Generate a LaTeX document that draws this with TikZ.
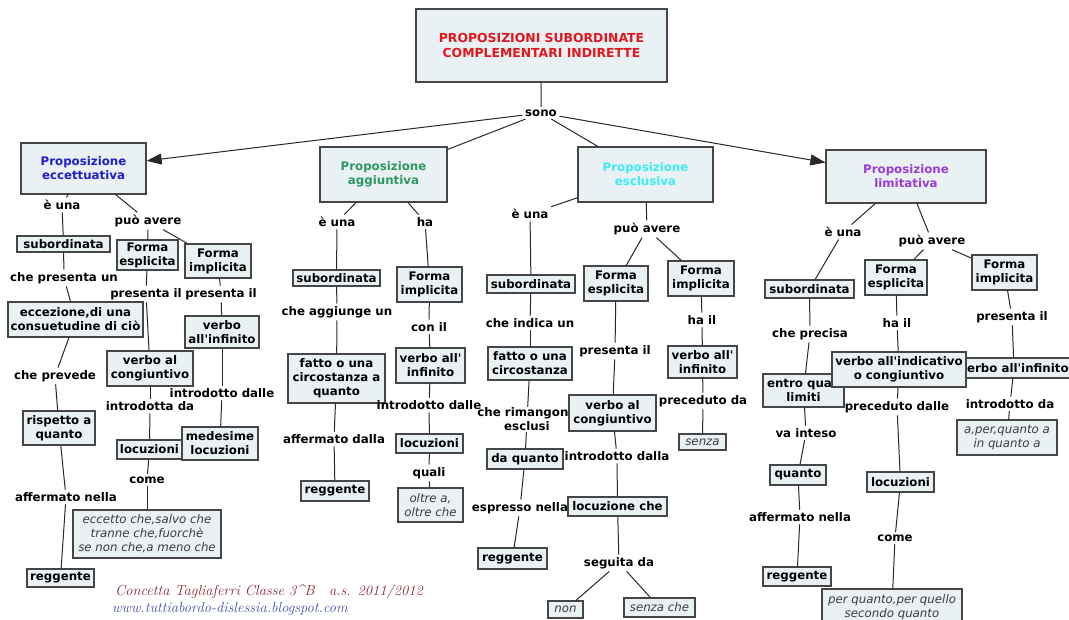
\documentclass[tikz,border=0pt]{standalone}
\usepackage{fontspec}
\newfontfamily\dvs{DejaVu Sans}
\usetikzlibrary{arrows.meta}
\definecolor{boxfill}{RGB}{234,241,244}
\definecolor{boxline}{RGB}{70,70,70}
\definecolor{linecol}{RGB}{40,40,40}
\definecolor{itgray}{RGB}{60,60,60}
\definecolor{tred}{RGB}{228,22,28}
\definecolor{tblue}{RGB}{30,30,205}
\definecolor{tgreen}{RGB}{46,150,96}
\definecolor{tcyan}{RGB}{60,236,245}
\definecolor{tpurple}{RGB}{155,60,214}
\definecolor{footred}{RGB}{140,40,55}
\definecolor{footblue}{RGB}{70,80,175}
\tikzset{
  box/.style={draw=boxline, fill=boxfill, line width=1.3pt, inner sep=1pt, align=center,
    font=\dvs\bfseries\fontsize{11.8}{14}\selectfont},
  ital/.style={font=\dvs\itshape\fontsize{11.8}{14}\selectfont, text=itgray},
  lbl/.style={inner sep=2.5pt, align=center, font=\dvs\bfseries\fontsize{11.8}{14}\selectfont},
  conn/.style={draw=linecol, line width=1pt},
  arr/.style={conn, -{Triangle[length=15pt,width=11pt]}},
  foot/.style={anchor=west, inner sep=0pt, font=\rmfamily\itshape\fontsize{14.5}{16}\selectfont}
}
\newcommand\cmbox[7][]{\node[box,#1,minimum width={#5-#3},minimum height={#6-#4}] (#2) at ({(#3+#5)/2},{(#4+#6)/2}) {#7};}
\begin{document}
\begin{tikzpicture}[x=1pt,y=-1pt]
\useasboundingbox (0,0) rectangle (1069,620);
\fill[white] (0,0) rectangle (1069,620);
\clip (0,0) rectangle (1069,620);

% ---- title
\cmbox[text=tred,font=\dvs\bfseries\fontsize{12.4}{14.5}\selectfont]{title}{416}{9}{667}{82}{PROPOSIZIONI SUBORDINATE\\COMPLEMENTARI INDIRETTE}
\node[lbl] (sono) at (541,113) {sono};

% ---- eccettuativa
\cmbox[text=tblue]{ecc}{21}{143}{146}{194}{Proposizione\\eccettuativa}
\node[lbl] (e1) at (62,205) {è una};
\cmbox{eccsub}{17}{236}{110}{252}{subordinata}
\node[lbl] (e2) at (64,278) {che presenta un};
\cmbox{eccecc}{8}{302}{143}{337}{eccezione,di una\\consuetudine di ciò}
\node[lbl] (e3) at (55,376) {che prevede};
\cmbox{eccrisp}{23}{411}{95}{445}{rispetto a\\quanto}
\node[lbl] (e4) at (66,497) {affermato nella};
\cmbox{eccreg}{27}{569}{94}{587}{reggente}
\node[lbl] (e5) at (148,221) {può avere};
\cmbox{eccfe}{117}{240}{178}{270}{Forma\\esplicita}
\cmbox{eccfi}{185}{244}{251}{278}{Forma\\implicita}
\node[lbl] (e6) at (146,294) {presenta il};
\node[lbl] (e7) at (221,294) {presenta il};
\cmbox{eccvc}{107}{351}{193}{386}{verbo al\\congiuntivo}
\cmbox{eccvi}{185}{316}{259}{348}{verbo\\all'infinito}
\node[lbl] (e8) at (150,406) {introdotta da};
\node[lbl] (e9) at (222,393) {introdotto dalle};
\cmbox{eccloc}{117}{440}{182}{459}{locuzioni}
\cmbox{eccmed}{182}{427}{258}{460}{medesime\\locuzioni}
\node[lbl] (e10) at (147,480) {come};
\cmbox[ital]{eccex}{73}{510}{221}{558}{eccetto che,salvo che\\tranne che,fuorchè\\se non che,a meno che}

% ---- aggiuntiva
\cmbox[text=tgreen]{agg}{320}{147}{447}{202}{Proposizione\\aggiuntiva}
\node[lbl] (a1) at (337,222) {è una};
\cmbox{aggsub}{293}{270}{380}{286}{subordinata}
\node[lbl] (a2) at (337,312) {che aggiunge un};
\cmbox{aggfatto}{288}{354}{385}{403}{fatto o una\\circostanza a\\quanto}
\node[lbl] (a3) at (334,439) {affermato dalla};
\cmbox{aggreg}{301}{481}{369}{501}{reggente}
\node[lbl] (a4) at (425,222) {ha};
\cmbox{aggfi}{397}{267}{462}{302}{Forma\\implicita}
\node[lbl] (a5) at (429,327) {con il};
\cmbox{aggvi}{396}{348}{465}{383}{verbo all'\\infinito}
\node[lbl] (a6) at (429,405) {introdotto dalle};
\cmbox{aggloc}{396}{434}{463}{453}{locuzioni}
\node[lbl] (a7) at (429,473) {quali};
\cmbox[ital]{aggoltre}{398}{488}{463}{522}{oltre a,\\oltre che}

% ---- esclusiva
\cmbox[text=tcyan]{esc}{578}{147}{713}{202}{Proposizione\\esclusiva}
\node[lbl] (s1) at (530,214) {è una};
\cmbox{escsub}{487}{275}{575}{293}{subordinata}
\node[lbl] (s2) at (530,323) {che indica un};
\cmbox{escfatto}{488}{347}{572}{380}{fatto o una\\circostanza}
\node[lbl,inner sep=1pt] (s3) at (527,419.5) {che rimangono\\esclusi};
\cmbox{escdaq}{487}{449}{563}{469}{da quanto}
\node[lbl] (s4) at (520,508) {espresso nella};
\cmbox{escreg}{478}{548}{547}{569}{reggente}
\node[lbl] (s5) at (647,229) {può avere};
\cmbox{escfe}{584}{266}{648}{301}{Forma\\esplicita}
\cmbox{escfi}{668}{261}{734}{296}{Forma\\implicita}
\node[lbl] (s6) at (615,351) {presenta il};
\cmbox{escvc}{569}{395}{656}{431}{verbo al\\congiuntivo}
\node[lbl] (s7) at (617,456) {introdotto dalla};
\cmbox{esclc}{568}{497}{667}{516}{locuzione che}
\node[lbl] (s8) at (619,563) {seguita da};
\cmbox[ital]{escnon}{548}{601}{583}{618}{non}
\cmbox[ital]{escsc}{624}{598}{695}{617}{senza che}
\node[lbl] (s9) at (702,320) {ha il};
\cmbox{escvi}{668}{346}{737}{378}{verbo all'\\infinito}
\node[lbl] (s10) at (703,401) {preceduto da};
\cmbox[ital]{escsenza}{679}{434}{726}{450}{senza}

% ---- limitativa
\cmbox[text=tpurple]{lim}{826}{150}{986}{203}{Proposizione\\limitativa}
\node[lbl] (m1) at (843,232) {è una};
\cmbox{limsub}{765}{280}{854}{298}{subordinata}
\node[lbl] (m2) at (810,334) {che precisa};
\cmbox{limentro}{763}{374}{844}{407}{entro quali\\limiti}
\node[lbl] (m3) at (806,433) {va inteso};
\cmbox{limq}{770}{465}{826}{485}{quanto}
\node[lbl] (m4) at (800,517) {affermato nella};
\cmbox{limreg}{763}{567}{831}{586}{reggente}
\node[lbl] (m5) at (932,241) {può avere};
\cmbox{limfe}{865}{260}{927}{295}{Forma\\esplicita}
\cmbox{limfi}{972}{255}{1037}{290}{Forma\\implicita}
\node[lbl] (m6) at (897,323) {ha il};
\node[lbl] (m9) at (1012,317) {presenta il};
\cmbox{limvi}{962}{358}{1066}{378}{verbo all'infinito}
\cmbox{limvind}{832}{352}{966}{387}{verbo all'indicativo\\o congiuntivo}
\node[lbl] (m7) at (897,407) {preceduto dalle};
\node[lbl] (m10) at (1010,404) {introdotto da};
\cmbox[ital]{limaper}{957}{420}{1057}{455}{a,per,quanto a\\in quanto a}
\cmbox{limloc}{867}{472}{934}{492}{locuzioni}
\node[lbl] (m8) at (895,538) {come};
\cmbox[ital]{limper}{822}{589}{962}{625}{per quanto,per quello\\secondo quanto}

% ---- footer
\node[foot, text=footred] (f1) at (115,592) {Concetta Tagliaferri Classe 3\textasciicircum B\quad a.s. 2011/2012};
\node[foot, text=footblue] (f2) at (112,609) {www.tuttiabordo-dislessia.blogspot.com};

% ---- connectors
\draw[conn] (title) -- (sono);
\draw[arr] (sono) -- (ecc);
\draw[conn] (sono) -- (agg);
\draw[conn] (sono) -- (esc);
\draw[arr] (sono) -- (lim);

\draw[conn] (ecc) -- (e1);
\draw[conn] (e1) -- (eccsub);
\draw[conn] (eccsub) -- (e2);
\draw[conn] (e2) -- (eccecc);
\draw[conn] (eccecc) -- (e3);
\draw[conn] (e3) -- (eccrisp);
\draw[conn] (eccrisp) -- (e4);
\draw[conn] (e4) -- (eccreg);
\draw[conn] (ecc) -- (e5);
\draw[conn] (e5) -- (eccfe);
\draw[conn] (e5) -- (eccfi);
\draw[conn] (eccfe) -- (e6);
\draw[conn] (e6) -- (eccvc);
\draw[conn] (eccfi) -- (e7);
\draw[conn] (e7) -- (eccvi);
\draw[conn] (eccvc) -- (e8);
\draw[conn] (e8) -- (eccloc);
\draw[conn] (eccvi) -- (e9);
\draw[conn] (e9) -- (eccmed);
\draw[conn] (eccloc) -- (e10);
\draw[conn] (e10) -- (eccex);

\draw[conn] (agg) -- (a1);
\draw[conn] (a1) -- (aggsub);
\draw[conn] (aggsub) -- (a2);
\draw[conn] (a2) -- (aggfatto);
\draw[conn] (aggfatto) -- (a3);
\draw[conn] (a3) -- (aggreg);
\draw[conn] (agg) -- (a4);
\draw[conn] (a4) -- (aggfi);
\draw[conn] (aggfi) -- (a5);
\draw[conn] (a5) -- (aggvi);
\draw[conn] (aggvi) -- (a6);
\draw[conn] (a6) -- (aggloc);
\draw[conn] (aggloc) -- (a7);
\draw[conn] (a7) -- (aggoltre);

\draw[conn] (esc) -- (s1);
\draw[conn] (s1) -- (escsub);
\draw[conn] (escsub) -- (s2);
\draw[conn] (s2) -- (escfatto);
\draw[conn] (escfatto) -- (s3);
\draw[conn] (s3) -- (escdaq);
\draw[conn] (escdaq) -- (s4);
\draw[conn] (s4) -- (escreg);
\draw[conn] (esc) -- (s5);
\draw[conn] (s5) -- (escfe);
\draw[conn] (s5) -- (escfi);
\draw[conn] (escfe) -- (s6);
\draw[conn] (s6) -- (escvc);
\draw[conn] (escvc) -- (s7);
\draw[conn] (s7) -- (esclc);
\draw[conn] (esclc) -- (s8);
\draw[conn] (s8) -- (escnon);
\draw[conn] (s8) -- (escsc);
\draw[conn] (escfi) -- (s9);
\draw[conn] (s9) -- (escvi);
\draw[conn] (escvi) -- (s10);
\draw[conn] (s10) -- (escsenza);

\draw[conn] (lim) -- (m1);
\draw[conn] (m1) -- (limsub);
\draw[conn] (limsub) -- (m2);
\draw[conn] (m2) -- (limentro);
\draw[conn] (limentro) -- (m3);
\draw[conn] (m3) -- (limq);
\draw[conn] (limq) -- (m4);
\draw[conn] (m4) -- (limreg);
\draw[conn] (lim) -- (m5);
\draw[conn] (m5) -- (limfe);
\draw[conn] (m5) -- (limfi);
\draw[conn] (limfe) -- (m6);
\draw[conn] (m6) -- (limvind);
\draw[conn] (limvind) -- (m7);
\draw[conn] (m7) -- (limloc);
\draw[conn] (limloc) -- (m8);
\draw[conn] (m8) -- (limper);
\draw[conn] (limfi) -- (m9);
\draw[conn] (m9) -- (limvi);
\draw[conn] (limvi) -- (m10);
\draw[conn] (m10) -- (limaper);
\end{tikzpicture}
\end{document}
